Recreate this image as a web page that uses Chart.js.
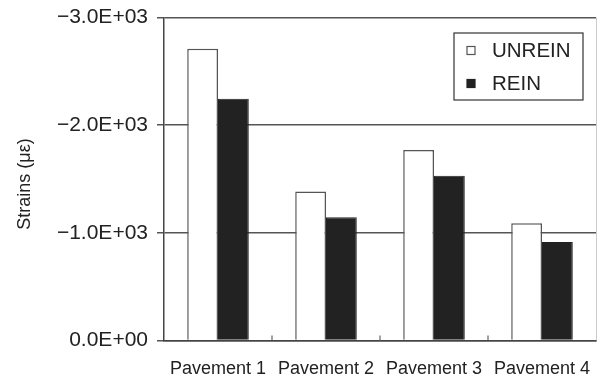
<html><head><title>Strains chart</title>
<script src="https://cdn.jsdelivr.net/npm/chart.js"></script>
<style>
  body { margin: 0; background: #fff; }
</style>
</head>
<body>
<canvas id="strainChart" width="604" height="380"></canvas>
<script>
// data
const categories = ['Pavement 1', 'Pavement 2', 'Pavement 3', 'Pavement 4'];
const unreinValues = [-2710, -1385, -1770, -1090];
const reinValues = [-2245, -1145, -1530, -915];
const yTicks = [0, -1000, -2000, -3000];

const ink = '#222';
const gridGray = '#555';
const font = '"Liberation Sans", Arial, sans-serif';

// -3000 -> "−3.0E+03"
function sciLabel(v) {
  let s = Math.abs(v).toExponential(1).toUpperCase();
  s = s.replace(/E([+-])(\d)$/, 'E$10$2');
  return (v < 0 ? '\u2212' : '') + s;
}

// inner ticks on category boundaries, light right border, boxed legend
const framePlugin = {
  id: 'frame',
  afterDatasetsDraw(chart) {
    const { ctx, chartArea: a } = chart;
    const x = chart.scales.x;
    ctx.save();
    ctx.strokeStyle = '#666';
    ctx.lineWidth = 1.2;
    for (let i = 0; i < categories.length - 1; i++) {
      const bx = (x.getPixelForTick(i) + x.getPixelForTick(i + 1)) / 2;
      ctx.beginPath();
      ctx.moveTo(bx, a.bottom);
      ctx.lineTo(bx, a.bottom - 5);
      ctx.stroke();
    }
    ctx.strokeStyle = '#ccc';
    ctx.lineWidth = 1;
    ctx.beginPath();
    ctx.moveTo(a.right + 0.5, a.top);
    ctx.lineTo(a.right + 0.5, a.bottom);
    ctx.stroke();
    ctx.restore();
  },
  afterDraw(chart) {
    const { ctx, chartArea: a } = chart;
    const bx = a.right - 142, by = a.top + 15.5;
    ctx.save();
    ctx.fillStyle = '#fff';
    ctx.fillRect(bx, by, 129, 67);
    ctx.strokeStyle = '#333';
    ctx.lineWidth = 1.2;
    ctx.strokeRect(bx, by, 129, 67);
    ctx.font = '20.5px ' + font;
    ctx.textBaseline = 'middle';
    chart.data.datasets.forEach((ds, i) => {
      const cy = by + 17.5 + i * 33;
      ctx.fillStyle = ds.backgroundColor;
      ctx.fillRect(bx + 13, cy - 4, 8, 8);
      ctx.strokeStyle = ds.borderColor;
      ctx.lineWidth = 1.2;
      ctx.strokeRect(bx + 13, cy - 4, 8, 8);
      ctx.fillStyle = ink;
      ctx.fillText(ds.label, bx + 38, cy + 1);
    });
    ctx.restore();
  }
};

new Chart(document.getElementById('strainChart'), {
  type: 'bar',
  data: {
    labels: categories,
    datasets: [
      {
        label: 'UNREIN',
        data: unreinValues,
        backgroundColor: '#fff',
        borderColor: '#555',
        borderWidth: 1.5
      },
      {
        label: 'REIN',
        data: reinValues,
        backgroundColor: '#222',
        borderColor: '#222',
        borderWidth: 1
      }
    ]
  },
  options: {
    responsive: false,
    animation: false,
    categoryPercentage: 0.57,
    barPercentage: 1.0,
    layout: { padding: { top: 17.5, right: 8, left: 0, bottom: 0 } },
    plugins: {
      legend: { display: false },
      tooltip: { enabled: false }
    },
    scales: {
      x: {
        grid: { display: false },
        border: { display: true, color: '#444', width: 1.5 },
        ticks: {
          color: ink,
          padding: 10,
          font: { family: font, size: 18 }
        },
        afterFit(s) { s.height = 39.5; }
      },
      y: {
        min: -3000,
        max: 0,
        reverse: true,
        afterBuildTicks(s) { s.ticks = yTicks.map(v => ({ value: v })); },
        grid: { color: gridGray, lineWidth: 1.5, tickLength: 7 },
        border: { display: true, color: '#444', width: 1.5 },
        ticks: {
          color: ink,
          padding: 9,
          font: { family: font, size: 21 },
          callback: v => sciLabel(v)
        },
        title: {
          display: true,
          text: 'Strains (\u03bc\u03b5)  ',
          color: ink,
          padding: { top: 14, bottom: 0 },
          font: { family: font, size: 18 }
        },
        afterFit(s) {
          s.width = 164;
          s.paddingTop = 0;
          s.paddingBottom = 0;
        }
      }
    }
  },
  plugins: [framePlugin]
});
</script>
</body></html>
